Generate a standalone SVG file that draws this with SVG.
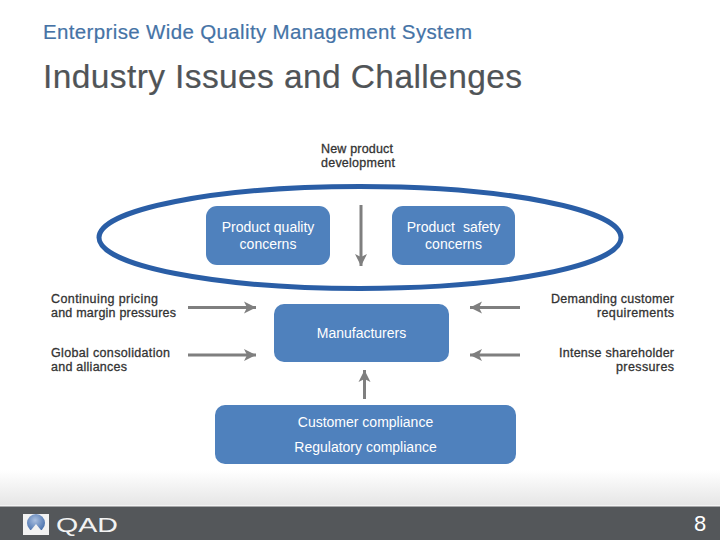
<svg xmlns="http://www.w3.org/2000/svg" width="720" height="540" viewBox="0 0 720 540">
<style>
text{font-family:"Liberation Sans",Arial,sans-serif}
.h1{font-size:20.500px;fill:#4573a6;stroke:#4573a6;stroke-width:.2px}
.h2{font-size:33.500px;fill:#505457;stroke:#505457;stroke-width:.2px}
.lb{font-size:12.500px;fill:#333;stroke:#333;stroke-width:.3px}
.bx{fill:#4f81bd}
.w{font-size:14px;fill:#fff;text-anchor:middle}
.ar{fill:none;stroke:#7f7f7f;stroke-width:3px;marker-end:url(#ah)}
</style>
<defs>
<marker id="ah" markerUnits="userSpaceOnUse" markerWidth="14" markerHeight="14" refX="12" refY="7" orient="auto"><path d="M0 1L12 7L0 13L3 7Z" fill="#7f7f7f"/></marker>
<linearGradient id="fade" x1="0" y1="0" x2="0" y2="1"><stop offset="0" stop-color="#fff"/><stop offset="1" stop-color="#e6e6e6"/></linearGradient>
<radialGradient id="orb" cx=".45" cy=".35" r=".7"><stop offset="0" stop-color="#a9bfe0"/><stop offset="1" stop-color="#3f69a8"/></radialGradient>
</defs>
<rect width="720" height="540" fill="#fff"/>
<text class="h1" x="43" y="39" textLength="429" lengthAdjust="spacing">Enterprise Wide Quality Management System</text>
<text class="h2" x="43" y="88" textLength="479" lengthAdjust="spacing">Industry Issues and Challenges</text>
<g id="ellipse"><ellipse cx="360" cy="237.500" rx="261" ry="51" fill="none" stroke="#2a5ea6" stroke-width="5"/></g>
<g id="new-product"><text class="lb" x="321" y="153" textLength="72">New product</text><text class="lb" x="321" y="167" textLength="74">development</text></g>
<g id="quality"><rect class="bx" x="206" y="206" width="124" height="59" rx="11"/><text class="w" x="268" y="232">Product quality</text><text class="w" x="268" y="249">concerns</text></g>
<g id="safety"><rect class="bx" x="392" y="206" width="123" height="59" rx="11"/><text class="w" x="453.500" y="232" word-spacing="4">Product safety</text><text class="w" x="453.500" y="249">concerns</text></g>
<g id="manufacturers"><rect class="bx" x="274" y="304" width="175" height="58" rx="10"/><text class="w" x="361.500" y="338">Manufacturers</text></g>
<g id="compliance"><rect class="bx" x="215" y="405" width="301" height="59" rx="10"/><text class="w" x="365.500" y="427">Customer compliance</text><text class="w" x="365.500" y="452">Regulatory compliance</text></g>
<g id="left-labels"><text class="lb" x="51" y="303" textLength="107">Continuing pricing</text><text class="lb" x="51" y="317" textLength="125">and margin pressures</text><text class="lb" x="51" y="357" textLength="119">Global consolidation</text><text class="lb" x="51" y="371" textLength="76">and alliances</text></g>
<g id="right-labels"><text class="lb" x="551" y="303" textLength="123">Demanding customer</text><text class="lb" x="597" y="317" textLength="77">requirements</text><text class="lb" x="559" y="357" textLength="115">Intense shareholder</text><text class="lb" x="616" y="371" textLength="58">pressures</text></g>
<g id="connectors">
<path class="ar" d="M361 205V266"/>
<path class="ar" d="M188 307.500H256"/>
<path class="ar" d="M188 355H256"/>
<path class="ar" d="M520 307.500H470"/>
<path class="ar" d="M520 355H470"/>
<path class="ar" d="M364.500 399V370"/>
</g>
<g id="footer">
<rect y="470" width="720" height="35" fill="url(#fade)"/>
<rect y="505" width="720" height="1.500" fill="#f4f4f4"/>
<rect y="506.500" width="720" height="33.500" fill="#54575a"/>
<rect x="23" y="514" width="26" height="21" fill="#f2f2f2"/>
<circle cx="36" cy="523" r="9" fill="url(#orb)"/>
<path d="M27 535L36 524L45 535Z" fill="#f2f2f2"/>
<text x="56" y="532" font-size="21" fill="#f2f2f2" textLength="62" lengthAdjust="spacingAndGlyphs">QAD</text>
<text x="700" y="531" font-size="22" fill="#fff" text-anchor="middle">8</text>
</g>
</svg>
